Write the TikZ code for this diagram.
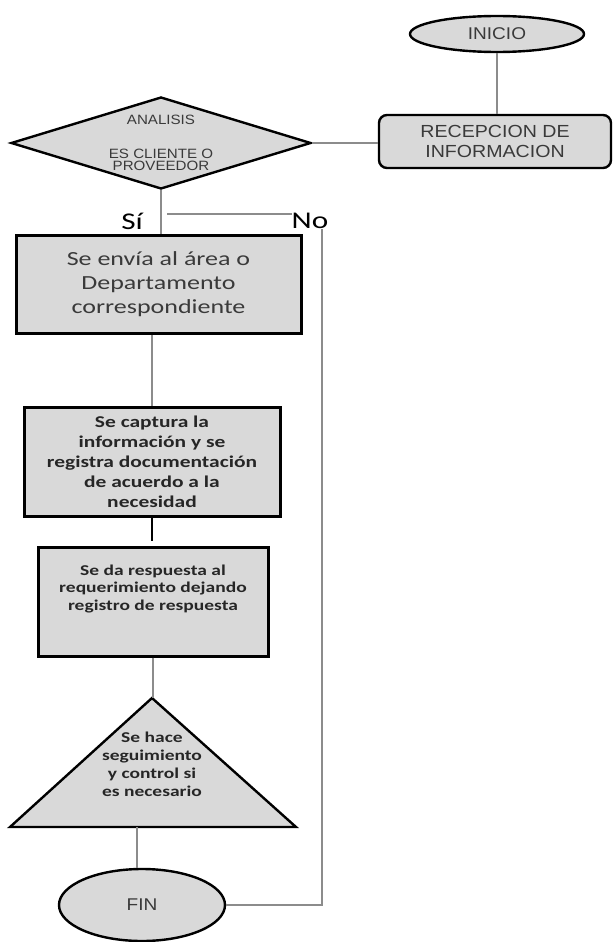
\documentclass[tikz,border=0pt]{standalone}
\usepackage{fontspec}
\usetikzlibrary{shapes.geometric,calc}
\newfontfamily\arialf[FakeStretch=1.12]{Liberation Sans}
\newfontfamily\calf[FakeStretch=1.3]{Carlito}
\definecolor{shapefill}{HTML}{D9D9D9}
\definecolor{linkgray}{HTML}{8C8C8C}
\definecolor{labeltext}{HTML}{3A3A3A}
\begin{document}
\begin{tikzpicture}[x=1pt,y=-1pt,
  terminal/.style={ellipse, draw=black, line width=2.4pt, fill=shapefill, inner sep=0pt,
    font=\arialf\fontsize{17}{20}\selectfont, text=labeltext},
  procbox/.style={rectangle, draw=black, line width=3pt, fill=shapefill, inner sep=0pt, align=center},
  link/.style={draw=linkgray, line width=2pt},
  branchlabel/.style={font=\calf\fontsize{24}{28}\selectfont, text=black, inner sep=0pt}
]
\fill[white] (0,0) rectangle (613,942);
\path[use as bounding box] (0,0) rectangle (613,942);

% start, reception and decision
\node[terminal, minimum width=174pt, minimum height=36pt] (inicio) at (497,34) {INICIO};
\node[procbox, rounded corners=8pt, line width=2.4pt, minimum width=232pt, minimum height=53pt,
  font=\arialf\fontsize{17.5}{20}\selectfont, text=labeltext] (recep) at (495,141.5)
  {RECEPCION DE\\INFORMACION};
\node[diamond, aspect=3.26, draw=black, line width=2.4pt, fill=shapefill, minimum width=300pt,
  minimum height=92pt, inner sep=0pt, align=center, font=\arialf\fontsize{13.5}{12}\selectfont,
  text=labeltext] (analisis) at (161,143) {ANALISIS\\[22pt]ES CLIENTE O\\PROVEEDOR};

% process steps
\node[procbox, minimum width=285pt, minimum height=98pt, font=\calf\fontsize{20}{24}\selectfont,
  text=labeltext] (envia) at (158.5,284) {Se envía al área o\\Departamento\\correspondiente};
\node[procbox, minimum width=256pt, minimum height=109pt,
  font=\calf\bfseries\fontsize{16.5}{20}\selectfont, text=black!85] (captura) at (152,461.5)
  {Se captura la\\información y se\\registra documentación\\de acuerdo a la\\necesidad};
\node[procbox, minimum width=230pt, minimum height=109pt] (respuesta) at (153,601.5) {};
\node[anchor=north, inner sep=0pt, align=center, font=\calf\bfseries\fontsize{15}{17.5}\selectfont,
  text=black!85] (respuestatxt) at ($(respuesta.north)+(0,19)$)
  {Se da respuesta al\\requerimiento dejando\\registro de respuesta};

% follow-up triangle
\coordinate (triTop) at (152,698);
\coordinate (triL) at (10,827);
\coordinate (triR) at (296,827);
\filldraw[fill=shapefill, draw=black, line width=2.4pt, line join=miter] (triTop) -- (triR) -- (triL) -- cycle;
\node[inner sep=0pt, align=center, font=\calf\bfseries\fontsize{15}{18}\selectfont, text=black!85]
  (seguimiento) at (152,764) {Se hace\\seguimiento\\y control si\\es necesario};

% end
\node[terminal, minimum width=166pt, minimum height=72pt] (fin) at (142,905) {FIN};

% branch labels
\node[branchlabel] (si) at (132,221) {Sí};
\node[branchlabel] (no) at (310,221) {No};

% connectors
\draw[link] (inicio.south) -- (inicio.south |- recep.north);
\draw[link] (analisis.east) -- (analisis.east -| recep.west);
\draw[link] (analisis.south) -- (analisis.south |- envia.north);
\draw[link] (captura.north) -- (captura.north |- envia.south);
\draw[black, line width=1.2pt, shorten >=5pt] (captura.south) -- (captura.south |- respuesta.north);
\draw[link] (respuesta.south) -- (respuesta.south |- triTop);
\coordinate (finTop) at ([xshift=-5pt]fin.north);
\draw[link] (finTop) -- (finTop |- triL);
\coordinate (splitStart) at (167,214);
\draw[link] (splitStart) -- (splitStart -| no.west);
\coordinate (noDrop) at (322,0);
\draw[link] (noDrop |- no.south) -- (noDrop |- fin.east) -- (fin.east);
\end{tikzpicture}
\end{document}
